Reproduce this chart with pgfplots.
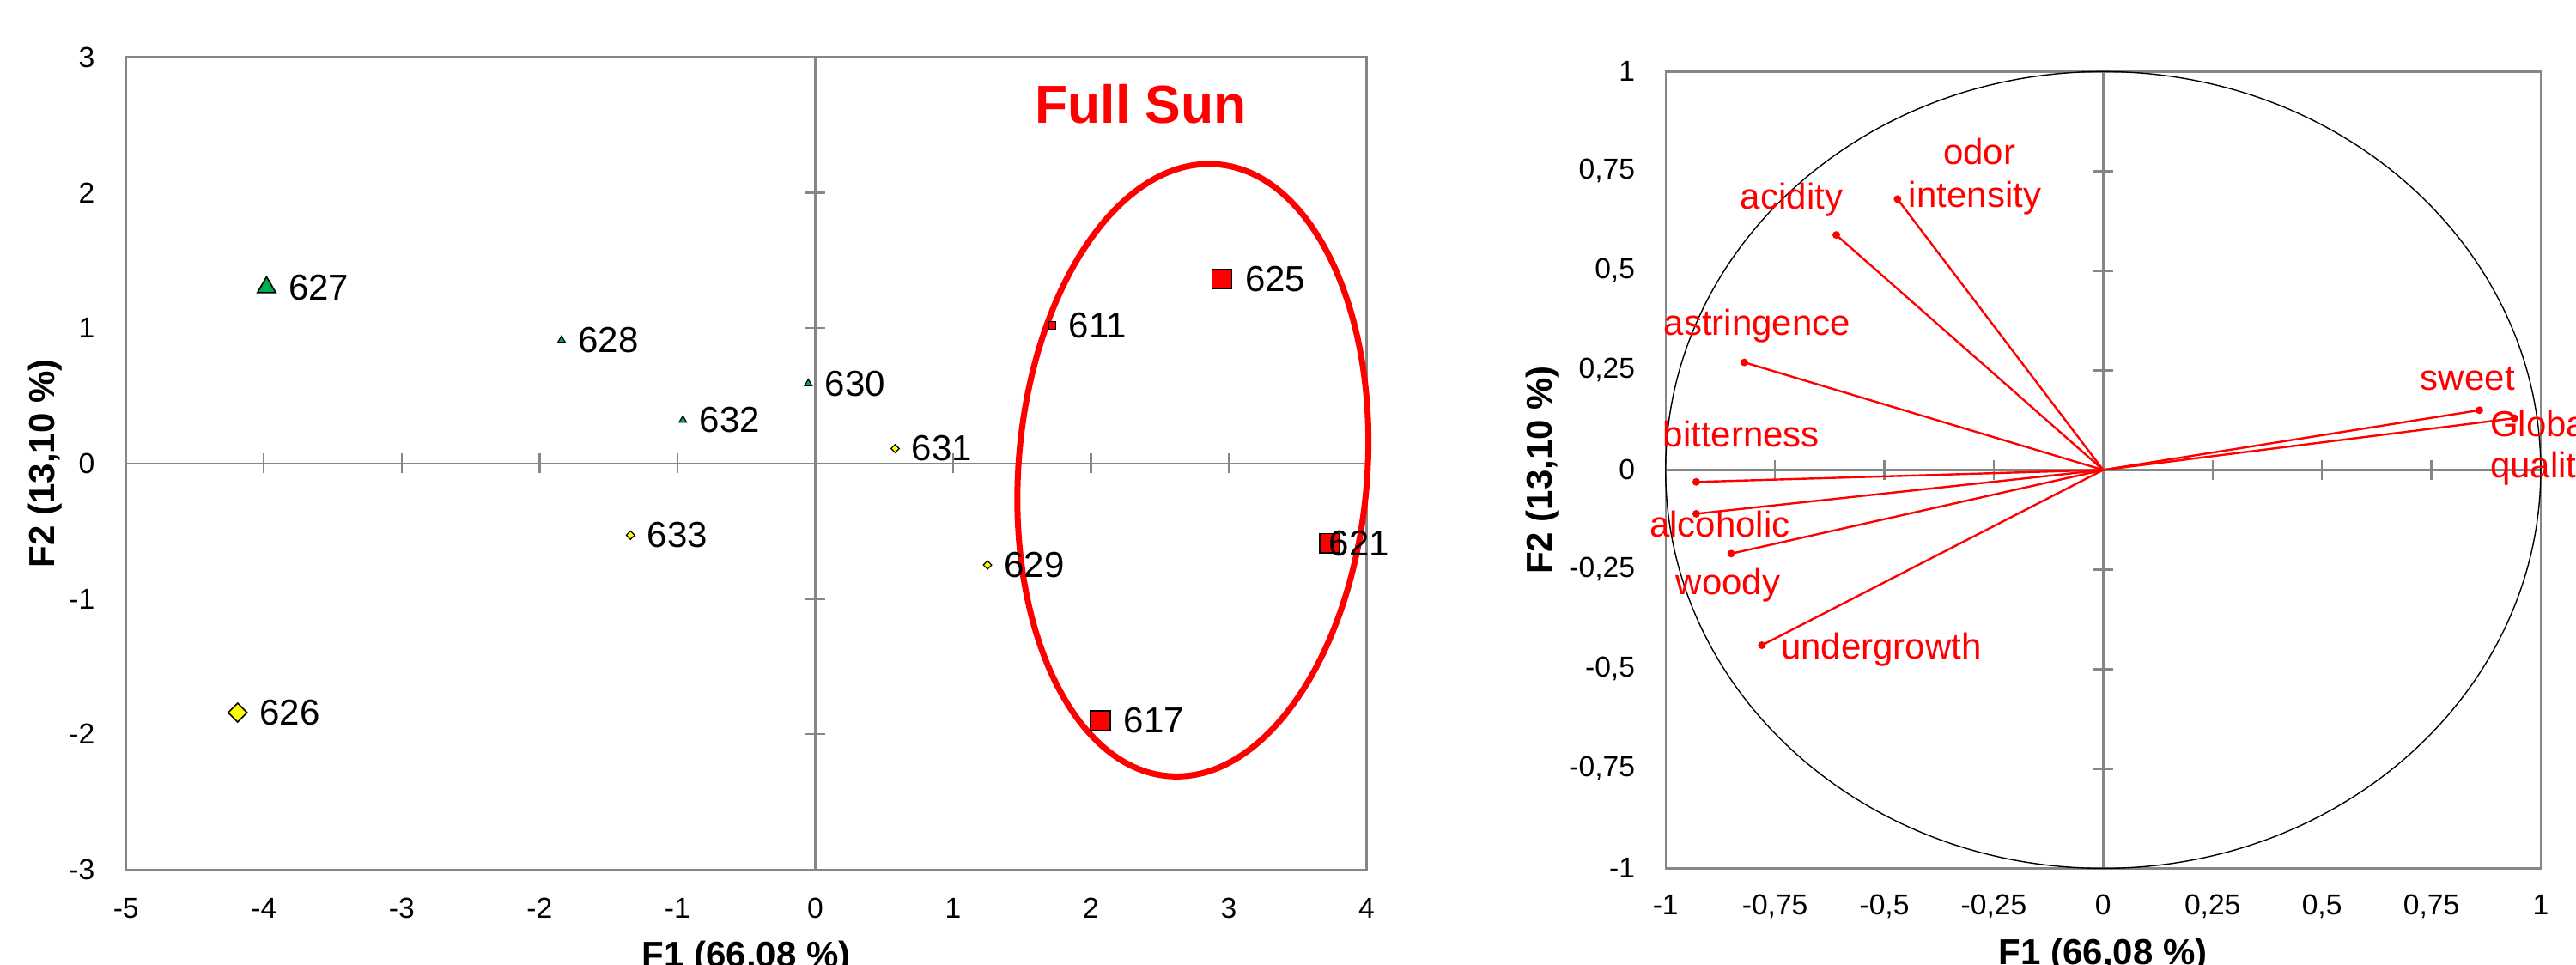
\documentclass[border=0pt]{standalone}
\usepackage{fontspec}
\setmainfont{Liberation Sans}
\usepackage{pgfplots}
\pgfplotsset{compat=1.18}
\usepackage{pgfplotstable}

\definecolor{axgray}{RGB}{134,134,134}
\definecolor{ptgreen}{RGB}{0,170,80}
\definecolor{ptyellow}{RGB}{255,255,0}
\definecolor{ptred}{RGB}{255,0,0}

\newcommand{\tickfont}{\fontsize{8.4}{10}\selectfont}
\newcommand{\labfont}{\fontsize{10.5}{12}\selectfont}
\newcommand{\axlabfont}{\bfseries\fontsize{10.5}{12}\selectfont}

\pgfplotsset{
 zeroaxes/.style={axis lines=middle, scale only axis, enlargelimits=false,
   axis line style={draw=axgray, line width=0.6pt, -},
   every inner x axis line/.append style={-}, every inner y axis line/.append style={-},
   tick style={draw=axgray, line width=0.6pt}, major tick length=5.75pt, tick align=center,
   xticklabels={}, yticklabels={}, hide obscured x ticks=false, hide obscured y ticks=false},
 frameaxis/.style={scale only axis, enlargelimits=false, clip=false,
   axis line style={draw=axgray, line width=0.6pt}, major tick length=0pt, tick style={draw=none},
   ticklabel style={font=\tickfont}, /pgf/number format/assume math mode=true,
   /pgf/number format/use comma,
   xlabel style={font=\axlabfont, anchor=base}, ylabel style={font=\axlabfont, anchor=base}},
 obs/.style={only marks, nodes near coords, point meta=explicit symbolic,
   nodes near coords style={anchor=west, inner sep=0pt, font=\labfont, text=black}},
}

\pgfplotstableread{
x y label
-3.98 1.30 627
}\greenbig
\pgfplotstableread{
x y label
-1.84 0.91 628
-0.96 0.32 632
-0.05 0.59 630
}\greensmall
\pgfplotstableread{
x y label
-4.19 -1.84 626
}\yellowbig
\pgfplotstableread{
x y label
0.58 0.11 631
-1.34 -0.53 633
1.25 -0.75 629
}\yellowsmall
\pgfplotstableread{
x y label
2.95 1.36 625
2.07 -1.90 617
}\redbig
\pgfplotstableread{
x y label
3.73 -0.59 621
}\redbigb
\pgfplotstableread{
x y label
1.72 1.02 611
}\redsmall

\pgfplotstableread{
x y
-0.47 0.68
-0.61 0.59
-0.82 0.27
-0.93 -0.03
-0.93 -0.11
-0.85 -0.21
-0.78 -0.44
0.86 0.15
0.94 0.13
}\vars

\begin{document}
\begin{tikzpicture}
% ---------- left: observations ----------
\begin{axis}[zeroaxes, at={(36.68pt,27.75pt)}, anchor=south west,
  width=361.2pt, height=236.6pt, xmin=-5, xmax=4, ymin=-3, ymax=3,
  xtick={-5,-4,-3,-2,-1,0,1,2,3,4}, ytick={-3,-2,-1,0,1,2,3}]
\end{axis}
\begin{axis}[frameaxis, at={(36.68pt,27.75pt)}, anchor=south west,
  width=361.2pt, height=236.6pt, xmin=-5, xmax=4, ymin=-3, ymax=3,
  xtick={-5,-4,-3,-2,-1,0,1,2,3,4}, ytick={-3,-2,-1,0,1,2,3},
  xticklabel style={yshift=-4.7pt}, yticklabel style={xshift=-5.6pt},
  xlabel={F1 (66,08 \%)}, ylabel={F2 (13,10 \%)},
  xlabel style={at={(axis description cs:0.5,-0.1202)}},
  ylabel style={at={(axis description cs:-0.0579,0.5)}}]
\draw[ptred, line width=1.75pt, rotate around={-4.5:(axis cs:2.74,-0.05)}]
  (axis cs:2.74,-0.05) ellipse [x radius=1.265, y radius=2.266];
\addplot[obs, mark=triangle*, mark size=3.1pt, mark options={fill=ptgreen, draw=black, line width=0.4pt},
  nodes near coords style={xshift=6.2pt}] table[meta=label] {\greenbig};
\addplot[obs, mark=triangle*, mark size=1.25pt, mark options={fill=ptgreen, draw=black, line width=0.3pt},
  nodes near coords style={xshift=4.7pt}] table[meta=label] {\greensmall};
\addplot[obs, mark=square*, mark size=1.95pt, mark options={rotate=45, fill=ptyellow, draw=black, line width=0.4pt},
  nodes near coords style={xshift=6.2pt}] table[meta=label] {\yellowbig};
\addplot[obs, mark=square*, mark size=0.85pt, mark options={rotate=45, fill=ptyellow, draw=black, line width=0.3pt},
  nodes near coords style={xshift=4.7pt}] table[meta=label] {\yellowsmall};
\addplot[obs, mark=square*, mark size=2.85pt, mark options={fill=ptred, draw=black, line width=0.4pt},
  nodes near coords style={xshift=6.6pt}] table[meta=label] {\redbig};
\addplot[obs, mark=square*, mark size=2.85pt, mark options={fill=ptred, draw=black, line width=0.4pt},
  nodes near coords style={xshift=-0.3pt}] table[meta=label] {\redbigb};
\addplot[obs, mark=square*, mark size=1.1pt, mark options={fill=ptred, draw=black, line width=0.3pt},
  nodes near coords style={xshift=4.7pt}] table[meta=label] {\redsmall};
\node[anchor=base, text=ptred, font=\bfseries\fontsize{15.6}{18}\selectfont, inner sep=0pt]
  at (axis cs:2.363,2.51) {Full Sun};
\end{axis}

% ---------- right: correlation circle ----------
\begin{axis}[zeroaxes, at={(484.93pt,28.15pt)}, anchor=south west,
  width=254.8pt, height=232pt, xmin=-1, xmax=1, ymin=-1, ymax=1,
  xtick={-1,-0.75,-0.5,-0.25,0,0.25,0.5,0.75,1}, ytick={-1,-0.75,-0.5,-0.25,0,0.25,0.5,0.75,1}]
\end{axis}
\begin{axis}[frameaxis, at={(484.93pt,28.15pt)}, anchor=south west,
  width=254.8pt, height=232pt, xmin=-1, xmax=1, ymin=-1, ymax=1,
  xtick={-1,-0.75,-0.5,-0.25,0,0.25,0.5,0.75,1}, ytick={-1,-0.75,-0.5,-0.25,0,0.25,0.5,0.75,1},
  xticklabel style={yshift=-4.1pt}, yticklabel style={xshift=-5.4pt},
  xlabel={F1 (66,08 \%)}, ylabel={F2 (13,10 \%)},
  xlabel style={at={(axis description cs:0.5,-0.1203)}},
  ylabel style={at={(axis description cs:-0.1302,0.5)}}]
\draw[black, line width=0.35pt] (axis cs:0,0) ellipse [x radius=1, y radius=1];
\addplot[ptred, line width=0.6pt, no markers] coordinates {(0,0) (-0.47,0.68)};
\addplot[ptred, line width=0.6pt, no markers] coordinates {(0,0) (-0.61,0.59)};
\addplot[ptred, line width=0.6pt, no markers] coordinates {(0,0) (-0.82,0.27)};
\addplot[ptred, line width=0.6pt, no markers] coordinates {(0,0) (-0.93,-0.03)};
\addplot[ptred, line width=0.6pt, no markers] coordinates {(0,0) (-0.93,-0.11)};
\addplot[ptred, line width=0.6pt, no markers] coordinates {(0,0) (-0.85,-0.21)};
\addplot[ptred, line width=0.6pt, no markers] coordinates {(0,0) (-0.78,-0.44)};
\addplot[ptred, line width=0.6pt, no markers] coordinates {(0,0) (0.86,0.15)};
\addplot[ptred, line width=0.6pt, no markers] coordinates {(0,0) (0.94,0.13)};
\addplot[only marks, mark=*, mark size=0.9pt, ptred] table {\vars};
\begin{scope}[every node/.style={text=ptred, font=\labfont, inner sep=0pt}]
\node[anchor=base] at (axis cs:-0.283,0.768) {odor};
\node[anchor=base] at (axis cs:-0.293,0.659) {intensity};
\node[anchor=base] at (axis cs:-0.712,0.654) {acidity};
\node[anchor=base] at (axis cs:-0.791,0.338) {astringence};
\node[anchor=base] at (axis cs:0.833,0.201) {sweet};
\node[anchor=base west] at (axis cs:0.883,0.084) {Global};
\node[anchor=base west] at (axis cs:0.883,-0.019) {quality};
\node[anchor=base] at (axis cs:-0.827,0.058) {bitterness};
\node[anchor=base] at (axis cs:-0.876,-0.169) {alcoholic};
\node[anchor=base] at (axis cs:-0.857,-0.312) {woody};
\node[anchor=base] at (axis cs:-0.507,-0.475) {undergrowth};
\end{scope}
\end{axis}
\pgfresetboundingbox
\useasboundingbox (0pt,0pt) rectangle (750pt,281pt);
\end{tikzpicture}
\end{document}
